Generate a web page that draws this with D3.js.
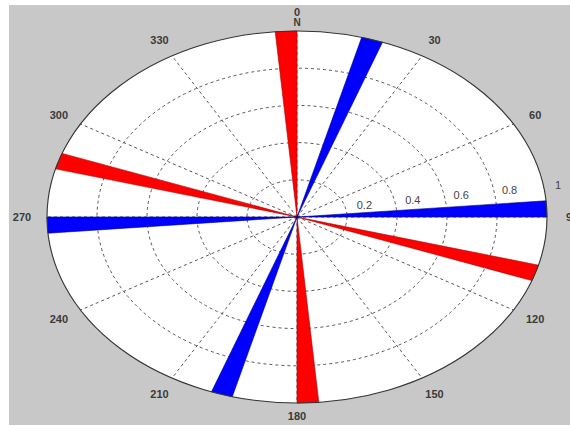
<!DOCTYPE html>
<html>
<head>
<meta charset="utf-8">
<script src="https://cdn.jsdelivr.net/npm/d3@7/dist/d3.min.js"></script>
<style>
  html, body { margin: 0; padding: 0; background: #ffffff; }
  svg { display: block; }
  text { font-family: "Liberation Sans", Arial, sans-serif; }
</style>
</head>
<body>
<svg id="chart" width="570" height="425"></svg>
<script>
// Rose bins: start angle of each bin (compass degrees, clockwise from north)
const redBins = [355, 105, 175, 285];
const blueBins = [15, 85, 195, 265];
const binWidth = 5;
const redValues = [1, 1, 1, 1];
const blueValues = [1, 1, 1, 1];

// Grid and label definitions
const radialTicks = [0.2, 0.4, 0.6, 0.8];
const radialLabels = ["0.2", "0.4", "0.6", "0.8", "1"];
const radialLabelValues = [0.2, 0.4, 0.6, 0.8, 1];
const spokeAngles = [0, 30, 60, 90, 120, 150, 180, 210, 240, 270, 300, 330];
const angleLabels = ["0", "30", "60", "90", "120", "150", "180", "210", "240", "270", "300", "330"];

const svg = d3.select("#chart");
const W = 570, H = 425;
const cx = 297, cy = 217;

// Figure background
svg.append("rect").attr("x", 9).attr("y", 5).attr("width", W - 9).attr("height", H - 5)
  .attr("fill", "#c8c8c8");

// Radius scales (the plot is stretched into an ellipse)
const rx = d3.scaleLinear().domain([0, 1]).range([0, 250]);
const ry = d3.scaleLinear().domain([0, 1]).range([0, 186]);
const ang = d3.scaleLinear().domain([0, 360]).range([0, 2 * Math.PI]);

const px = (deg, r) => cx + rx(r) * Math.sin(ang(deg));
const py = (deg, r) => cy - ry(r) * Math.cos(ang(deg));

// Plot area
svg.append("ellipse").attr("cx", cx).attr("cy", cy)
  .attr("rx", rx(1)).attr("ry", ry(1)).attr("fill", "#ffffff");

const grid = svg.append("g").attr("fill", "none").attr("stroke", "#444")
  .attr("stroke-width", 0.9).attr("stroke-dasharray", "3,3");

grid.selectAll("ellipse").data(radialTicks).join("ellipse")
  .attr("cx", cx).attr("cy", cy)
  .attr("rx", d => rx(d)).attr("ry", d => ry(d));

grid.selectAll("line").data(spokeAngles).join("line")
  .attr("x1", cx).attr("y1", cy)
  .attr("x2", d => px(d, 1)).attr("y2", d => py(d, 1));

// Rose wedges: triangles from the centre to the bin edges
const line = d3.line();
function wedge(start, v) {
  return line([[cx, cy], [px(start, v), py(start, v)], [px(start + binWidth, v), py(start + binWidth, v)]]) + "Z";
}

const series = [
  { bins: redBins, values: redValues, color: "#ff0000", edge: "#a00000" },
  { bins: blueBins, values: blueValues, color: "#0000ff", edge: "#00008a" }
];
series.forEach(s => {
  svg.append("g").selectAll("path").data(s.bins).join("path")
    .attr("d", (d, i) => wedge(d, s.values[i]))
    .attr("fill", s.color)
    .attr("stroke", s.edge)
    .attr("stroke-width", 0.6)
    .attr("stroke-linejoin", "round");
});

// Outer boundary
svg.append("ellipse").attr("cx", cx).attr("cy", cy)
  .attr("rx", rx(1)).attr("ry", ry(1))
  .attr("fill", "none").attr("stroke", "#333").attr("stroke-width", 1.1);

// Angle labels (the top one sits a little higher to leave room for "N")
svg.append("g").selectAll("text").data(spokeAngles).join("text")
  .attr("x", d => px(d, 1.1))
  .attr("y", d => d === 0 ? 12 : d === 180 ? 416 : py(d, 1.1))
  .attr("text-anchor", "middle").attr("dominant-baseline", "central")
  .attr("font-size", 11).attr("font-weight", "bold").attr("fill", "#3a3a3a")
  .text((d, i) => angleLabels[i]);

svg.append("text").attr("x", cx).attr("y", 22)
  .attr("text-anchor", "middle").attr("dominant-baseline", "central")
  .attr("font-size", 10).attr("font-weight", "bold").attr("fill", "#3a3a3a")
  .text("N");

// Radial tick labels
svg.append("g").selectAll("text").data(radialLabelValues).join("text")
  .attr("x", d => cx + 19 + rx(d) * 0.968)
  .attr("y", d => cy - 7 - ry(d) * 0.134)
  .attr("text-anchor", "middle").attr("dominant-baseline", "central")
  .attr("font-size", 11).attr("fill", "#444")
  .text((d, i) => radialLabels[i]);
</script>
</body>
</html>
